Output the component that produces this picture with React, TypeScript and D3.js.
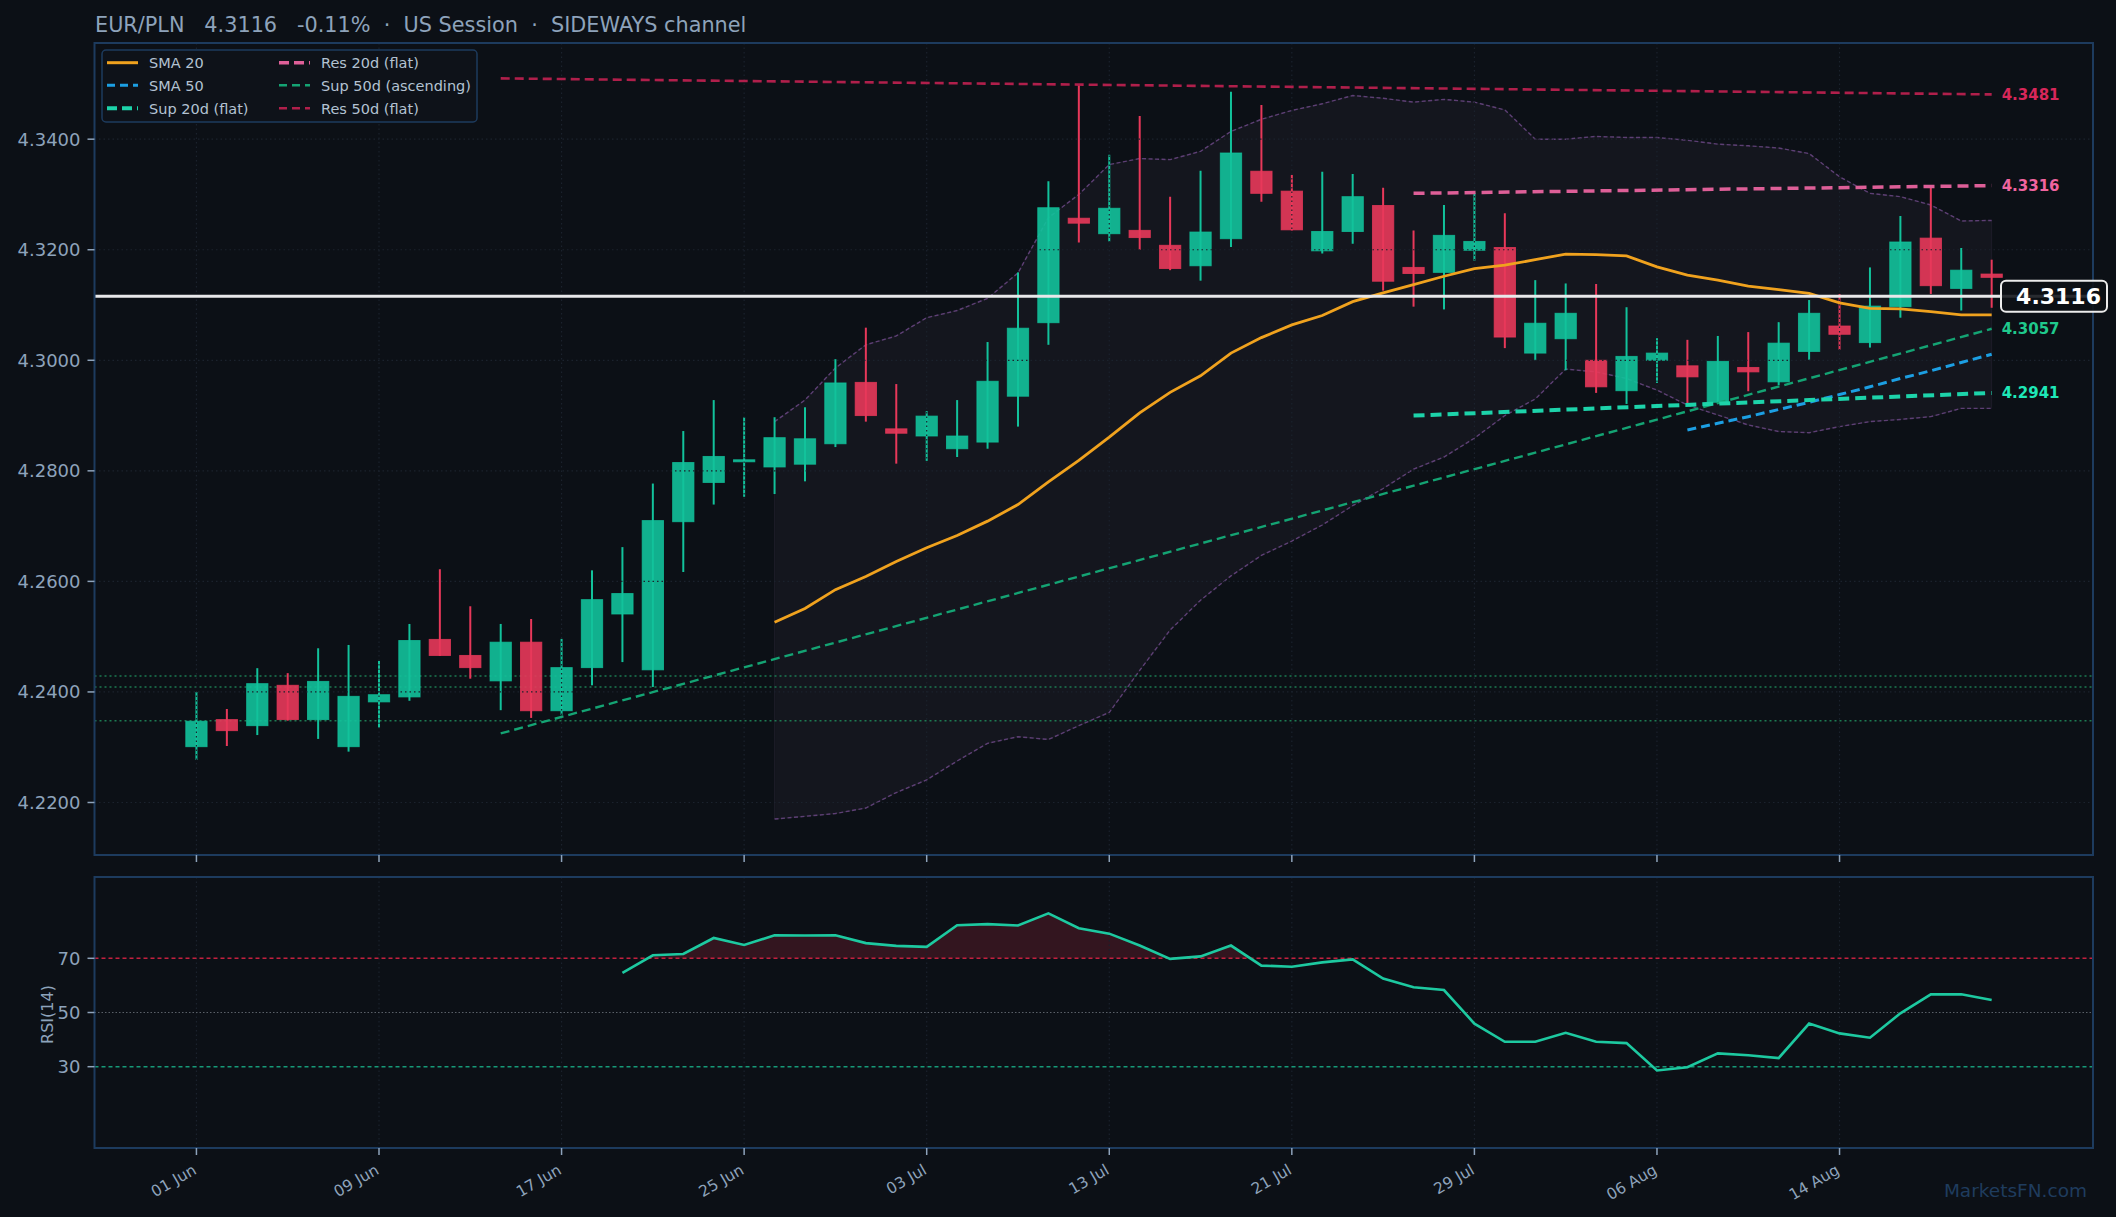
import React from 'react';
import * as d3 from 'd3';

const W = 2116;
const H = 1217;

// ---------- data ----------
const tickIdx = [0, 6, 12, 18, 24, 30, 36, 42, 48, 54];
const tickLabels = ['01 Jun', '09 Jun', '17 Jun', '25 Jun', '03 Jul', '13 Jul', '21 Jul', '29 Jul', '06 Aug', '14 Aug'];
const priceTicks = [4.22, 4.24, 4.26, 4.28, 4.30, 4.32, 4.34];
const rsiTicks = [30, 50, 70];

const opens = [4.2301, 4.2350, 4.2339, 4.2412, 4.2350, 4.2301, 4.2382, 4.2391, 4.2495, 4.2466,
  4.2420, 4.2490, 4.2366, 4.2444, 4.2541, 4.2440, 4.2708, 4.2779, 4.2818, 4.2807,
  4.2812, 4.2849, 4.2960, 4.2876, 4.2863, 4.2840, 4.2852, 4.2935, 4.3068, 4.3257,
  4.3229, 4.3235, 4.3208, 4.3171, 4.3220, 4.3342, 4.3306, 4.3198, 4.3233, 4.3280,
  4.3168, 4.3159, 4.3199, 4.3204, 4.3013, 4.3039, 4.3000, 4.2945, 4.3000, 4.2990,
  4.2924, 4.2987, 4.2961, 4.3016, 4.3062, 4.3032, 4.3097, 4.3221, 4.3130, 4.3156];
const highs = [4.2400, 4.2369, 4.2443, 4.2434, 4.2479, 4.2485, 4.2456, 4.2523, 4.2622, 4.2555,
  4.2523, 4.2532, 4.2496, 4.2620, 4.2662, 4.2777, 4.2872, 4.2928, 4.2897, 4.2897,
  4.2915, 4.3002, 4.3059, 4.2957, 4.2908, 4.2928, 4.3033, 4.3159, 4.3324, 4.3498,
  4.3372, 4.3442, 4.3296, 4.3343, 4.3486, 4.3462, 4.3335, 4.3341, 4.3337, 4.3312,
  4.3235, 4.3281, 4.3303, 4.3266, 4.3145, 4.3139, 4.3138, 4.3096, 4.3040, 4.3037,
  4.3044, 4.3051, 4.3069, 4.3109, 4.3120, 4.3168, 4.3261, 4.3317, 4.3203, 4.3182];
const lows = [4.2277, 4.2302, 4.2322, 4.2348, 4.2315, 4.2292, 4.2335, 4.2384, 4.2465, 4.2424,
  4.2367, 4.2353, 4.2358, 4.2412, 4.2454, 4.2409, 4.2617, 4.2739, 4.2753, 4.2758,
  4.2781, 4.2843, 4.2889, 4.2813, 4.2818, 4.2825, 4.2840, 4.2880, 4.3028, 4.3213,
  4.3215, 4.3200, 4.3163, 4.3144, 4.3205, 4.3287, 4.3235, 4.3193, 4.3211, 4.3126,
  4.3097, 4.3092, 4.3180, 4.3022, 4.3000, 4.2982, 4.2941, 4.2921, 4.2959, 4.2919,
  4.2922, 4.2944, 4.2955, 4.3001, 4.3019, 4.3023, 4.3077, 4.3120, 4.3090, 4.3095];
const closes = [4.2347, 4.2330, 4.2415, 4.2350, 4.2419, 4.2392, 4.2395, 4.2493, 4.2466, 4.2444,
  4.2490, 4.2366, 4.2444, 4.2567, 4.2578, 4.2710, 4.2815, 4.2826, 4.2820, 4.2860,
  4.2858, 4.2959, 4.2900, 4.2868, 4.2899, 4.2863, 4.2962, 4.3058, 4.3276, 4.3248,
  4.3275, 4.3222, 4.3166, 4.3232, 4.3375, 4.3302, 4.3236, 4.3233, 4.3296, 4.3143,
  4.3157, 4.3226, 4.3215, 4.3042, 4.3067, 4.3085, 4.2952, 4.3007, 4.3013, 4.2970,
  4.2998, 4.2979, 4.3031, 4.3085, 4.3047, 4.3098, 4.3214, 4.3135, 4.3163, 4.3150];

const bbStart = 19;
const bbUpper = [4.2889, 4.2928, 4.2986, 4.3028, 4.3044, 4.3077, 4.3090, 4.3112, 4.3158, 4.3258,
  4.3300, 4.3354, 4.3365, 4.3363, 4.3378, 4.3414, 4.3436, 4.3452, 4.3464, 4.3479,
  4.3474, 4.3467, 4.3472, 4.3467, 4.3453, 4.3400, 4.3400, 4.3405, 4.3403, 4.3403,
  4.3398, 4.3391, 4.3388, 4.3384, 4.3374, 4.3332, 4.3302, 4.3296, 4.3281, 4.3252, 4.3253];
const bbLower = [4.2170, 4.2175, 4.2180, 4.2190, 4.2218, 4.2241, 4.2275, 4.2307, 4.2319, 4.2314,
  4.2339, 4.2363, 4.2439, 4.2512, 4.2566, 4.2610, 4.2647, 4.2673, 4.2702, 4.2737,
  4.2768, 4.2803, 4.2825, 4.2859, 4.2900, 4.2930, 4.2984, 4.2979, 4.2967, 4.2946,
  4.2919, 4.2901, 4.2883, 4.2871, 4.2869, 4.2880, 4.2889, 4.2893, 4.2898, 4.2913, 4.2913];
const sma20Start = 19;
const sma20 = [4.2526, 4.2551, 4.2585, 4.2609, 4.2636, 4.2661, 4.2683, 4.2709, 4.2739, 4.2780,
  4.2819, 4.2861, 4.2905, 4.2942, 4.2972, 4.3013, 4.3041, 4.3064, 4.3081, 4.3106,
  4.3122, 4.3137, 4.3152, 4.3166, 4.3172, 4.3182, 4.3192, 4.3191, 4.3189, 4.3169,
  4.3154, 4.3145, 4.3134, 4.3128, 4.3121, 4.3104, 4.3094, 4.3093, 4.3088, 4.3082, 4.3082];
const sma50Start = 49;
const sma50 = [4.2874, 4.2886, 4.2898, 4.2911, 4.2924, 4.2938, 4.2952, 4.2967, 4.2981, 4.2996, 4.3011];

const rsiStart = 14;
const rsi = [64.6, 71.1, 71.6, 77.5, 74.9, 78.5, 78.4, 78.5, 75.6, 74.6,
  74.2, 82.2, 82.6, 82.1, 86.6, 81.1, 79.1, 74.7, 69.8, 70.7,
  74.7, 67.3, 66.9, 68.5, 69.6, 62.5, 59.3, 58.3, 45.9, 39.2,
  39.2, 42.5, 39.2, 38.7, 28.6, 29.8, 34.9, 34.2, 33.2, 45.9,
  42.3, 40.7, 49.7, 56.7, 56.7, 54.6];

const res50Idx = [10, 59];
const res50Val = [4.3510, 4.3481];
const sup50Idx = [10, 59];
const sup50Val = [4.2325, 4.3057];
const res20Idx = [40, 59];
const res20Val = [4.3302, 4.3316];
const sup20Idx = [40, 59];
const sup20Val = [4.2900, 4.2941];
const pivotLevels = [4.2429, 4.2409, 4.2348];
const lastPrice = 4.3116;

// ---------- style ----------
const BG = '#0c1016';
const FRAME = '#1d3b5e';
const GRID = '#1b222d';
const TXT = '#8ea3bb';
const UP = '#12c29b';
const DOWN = '#e8385a';
const C_SMA20 = '#f0a21e';
const C_SMA50 = '#1c9fe3';
const C_SUP20 = '#1dd3aa';
const C_RES20 = '#de5f98';
const C_SUP50 = '#14a373';
const C_RES50 = '#b01f4b';
const FONT = '"DejaVu Sans", sans-serif';

const L = 94.5, R = 2093, T = 43, B = 855;
const RT = 877, RB = 1148;

export default function App() {
  const x = d3.scaleLinear().domain([-3.35, 62.33]).range([L, R]);
  const y = d3.scaleLinear().domain([4.2105, 4.3574]).range([B, T]);
  const ry = d3.scaleLinear().domain([0, 100]).range([RB, RT]);
  const bw = (x(1) - x(0)) * 0.7;

  const lineIdx = (start: number) => d3.line<number>().x((_, k) => x(start + k)).y((v) => y(v));
  const seg = (idx: number[], vals: number[]) =>
    d3.line<number>().x((_, k) => x(idx[k])).y((v) => y(v))(vals) || '';

  const bandArea = d3.area<number>()
    .x((_, k) => x(bbStart + k))
    .y0((_, k) => y(bbLower[k]))
    .y1((v) => y(v))(bbUpper) || '';

  // RSI fill above 70
  const pts: { i: number; v: number }[] = [];
  rsi.forEach((v, k) => {
    pts.push({ i: rsiStart + k, v });
    if (k < rsi.length - 1) {
      const vn = rsi[k + 1];
      if ((v - 70) * (vn - 70) < 0) {
        const t = (70 - v) / (vn - v);
        pts.push({ i: rsiStart + k + t, v: 70 });
      }
    }
  });
  const rsiFill = d3.area<{ i: number; v: number }>()
    .x((d) => x(d.i)).y0(ry(70)).y1((d) => ry(Math.max(70, d.v)))(pts) || '';
  const rsiLine = d3.line<number>().x((_, k) => x(rsiStart + k)).y((v) => ry(v))(rsi) || '';

  const legendRows = [
    { col: 0, row: 0, label: 'SMA 20', color: C_SMA20, dash: '', w: 3 },
    { col: 0, row: 1, label: 'SMA 50', color: C_SMA50, dash: '8 5', w: 3 },
    { col: 0, row: 2, label: 'Sup 20d (flat)', color: C_SUP20, dash: '10 5', w: 4 },
    { col: 1, row: 0, label: 'Res 20d (flat)', color: C_RES20, dash: '10 5', w: 3.5 },
    { col: 1, row: 1, label: 'Sup 50d (ascending)', color: C_SUP50, dash: '8 5', w: 2.5 },
    { col: 1, row: 2, label: 'Res 50d (flat)', color: C_RES50, dash: '8 5', w: 2.5 },
  ];
  const rowY = [62.7, 85.3, 108.3];
  const colX = [107, 279];

  const endLabels = [
    { v: res50Val[1], color: '#d8275a' },
    { v: res20Val[1], color: '#f0649f' },
    { v: sup50Val[1], color: '#1fc98c' },
    { v: sup20Val[1], color: '#1ee8b8' },
  ];

  return (
    <div>
      <style>{`body{margin:0;background:${BG};}`}</style>
      <svg width={W} height={H} style={{ display: 'block', background: BG }} fontFamily={FONT}>
        <rect x={0} y={0} width={W} height={H} fill={BG} />

        {/* title */}
        <text x={95} y={32} fontSize={20.8} fill={TXT} style={{ whiteSpace: 'pre' }}>
          {'EUR/PLN   4.3116   -0.11%  ·  US Session  ·  SIDEWAYS channel'}
        </text>

        <defs>
          <clipPath id="mainClip"><rect x={L} y={T} width={R - L} height={B - T} /></clipPath>
          <clipPath id="rsiClip"><rect x={L} y={RT} width={R - L} height={RB - RT} /></clipPath>
        </defs>

        {/* ---------- main panel ---------- */}
        <g clipPath="url(#mainClip)">
          {/* bollinger band */}
          <path d={bandArea} fill="rgb(150,118,165)" fillOpacity={0.06} stroke="rgb(150,118,165)" strokeOpacity={0.1} strokeWidth={1} />
          <path d={lineIdx(bbStart)(bbUpper) || ''} fill="none" stroke="#5d3f74" strokeWidth={1.4} strokeDasharray="4 2.5" />
          <path d={lineIdx(bbStart)(bbLower) || ''} fill="none" stroke="#5d3f74" strokeWidth={1.4} strokeDasharray="4 2.5" />

          {/* pivot dotted levels */}
          {pivotLevels.map((v, k) => (
            <line key={k} x1={L} x2={R} y1={y(v)} y2={y(v)} stroke="#1c7a52" strokeWidth={1.5} strokeDasharray="2 3" />
          ))}

          {/* candles */}
          {opens.map((o, i) => {
            const c = closes[i];
            const col = c >= o ? UP : DOWN;
            const top = y(Math.max(o, c));
            const bot = y(Math.min(o, c));
            return (
              <g key={i}>
                <rect x={x(i) - bw / 2} y={top} width={bw} height={Math.max(bot - top, 2)} fill={col} fillOpacity={0.9} stroke={col} strokeOpacity={0.75} strokeWidth={1} />
                <line x1={x(i)} x2={x(i)} y1={y(highs[i])} y2={y(lows[i])} stroke={col} strokeWidth={2} />
              </g>
            );
          })}

          {/* grid on top */}
          {priceTicks.map((v) => (
            <line key={v} x1={L} x2={R} y1={y(v)} y2={y(v)} stroke={GRID} strokeWidth={1.2} strokeDasharray="1.5 3" />
          ))}
          {tickIdx.map((i) => (
            <line key={i} x1={x(i)} x2={x(i)} y1={T} y2={B} stroke={GRID} strokeWidth={1.2} strokeDasharray="1.5 3" />
          ))}

          {/* lines */}
          <path d={seg(res50Idx, res50Val)} fill="none" stroke={C_RES50} strokeWidth={2.6} strokeDasharray="9 5" />
          <path d={seg(sup50Idx, sup50Val)} fill="none" stroke={C_SUP50} strokeWidth={2.4} strokeDasharray="9 5" />
          <path d={lineIdx(sma50Start)(sma50) || ''} fill="none" stroke={C_SMA50} strokeWidth={3} strokeDasharray="9 5" />
          <path d={seg(res20Idx, res20Val)} fill="none" stroke={C_RES20} strokeWidth={3.5} strokeDasharray="11 6" />
          <path d={seg(sup20Idx, sup20Val)} fill="none" stroke={C_SUP20} strokeWidth={4} strokeDasharray="11 6" />
          <path d={lineIdx(sma20Start)(sma20) || ''} fill="none" stroke={C_SMA20} strokeWidth={2.8} />

          {/* last price */}
          <line x1={L} x2={R} y1={y(lastPrice)} y2={y(lastPrice)} stroke="#e8e8ea" strokeWidth={3} />
        </g>

        {/* end labels */}
        {endLabels.map((d, k) => (
          <text key={k} x={x(59) + 10} y={y(d.v)} dy="0.36em" fontSize={15} fontWeight="bold" fill={d.color}>
            {d.v.toFixed(4)}
          </text>
        ))}

        {/* frame */}
        <rect x={L} y={T} width={R - L} height={B - T} fill="none" stroke={FRAME} strokeWidth={2} />

        {/* last price box */}
        <rect x={2001} y={y(lastPrice) - 15.5} width={106} height={31} rx={5} fill={BG} fillOpacity={0.88} stroke="#ececec" strokeWidth={2} />
        <text x={2101} y={y(lastPrice)} dy="0.36em" textAnchor="end" fontSize={22} fontWeight="bold" fill="#ffffff">
          {lastPrice.toFixed(4)}
        </text>

        {/* y axis */}
        {priceTicks.map((v) => (
          <g key={v}>
            <line x1={L - 7} x2={L} y1={y(v)} y2={y(v)} stroke={TXT} strokeWidth={1.5} />
            <text x={L - 14} y={y(v)} dy="0.36em" textAnchor="end" fontSize={18} fill={TXT}>{v.toFixed(4)}</text>
          </g>
        ))}
        {tickIdx.map((i) => (
          <line key={i} x1={x(i)} x2={x(i)} y1={B} y2={B + 7} stroke={TXT} strokeWidth={1.5} />
        ))}

        {/* legend */}
        <rect x={102} y={50} width={375} height={72} rx={4} fill="#0e1219" stroke={FRAME} strokeWidth={1.5} />
        {legendRows.map((r, k) => (
          <g key={k}>
            <line x1={colX[r.col]} x2={colX[r.col] + 31} y1={rowY[r.row]} y2={rowY[r.row]} stroke={r.color} strokeWidth={r.w} strokeDasharray={r.dash || undefined} />
            <text x={colX[r.col] + 42} y={rowY[r.row]} dy="0.36em" fontSize={14.5} fill="#b3c2d2">{r.label}</text>
          </g>
        ))}

        {/* ---------- RSI panel ---------- */}
        <g clipPath="url(#rsiClip)">
          <path d={rsiFill} fill="#c0283f" fillOpacity={0.22} />
          {tickIdx.map((i) => (
            <line key={i} x1={x(i)} x2={x(i)} y1={RT} y2={RB} stroke={GRID} strokeWidth={1.2} strokeDasharray="1.5 3" />
          ))}
          <line x1={L} x2={R} y1={ry(70)} y2={ry(70)} stroke="#c4203f" strokeWidth={1.4} strokeDasharray="4 3" />
          <line x1={L} x2={R} y1={ry(50)} y2={ry(50)} stroke="#5a6068" strokeWidth={1.2} strokeDasharray="1.5 2" />
          <line x1={L} x2={R} y1={ry(30)} y2={ry(30)} stroke="#169a78" strokeWidth={1.4} strokeDasharray="4 3" />
          <path d={rsiLine} fill="none" stroke="#1dc9a0" strokeWidth={2.6} />
        </g>
        <rect x={L} y={RT} width={R - L} height={RB - RT} fill="none" stroke={FRAME} strokeWidth={2} />
        {rsiTicks.map((v) => (
          <g key={v}>
            <line x1={L - 7} x2={L} y1={ry(v)} y2={ry(v)} stroke={TXT} strokeWidth={1.5} />
            <text x={L - 14} y={ry(v)} dy="0.36em" textAnchor="end" fontSize={18} fill={TXT}>{v}</text>
          </g>
        ))}
        <text transform={`translate(47, ${(RT + RB) / 2 + 2}) rotate(-90)`} textAnchor="middle" dy="0.36em" fontSize={16} fill={TXT}>RSI(14)</text>

        {/* x axis */}
        {tickIdx.map((i, k) => (
          <g key={i}>
            <line x1={x(i)} x2={x(i)} y1={RB} y2={RB + 7} stroke={TXT} strokeWidth={1.5} />
            <text transform={`translate(${x(i) + 1}, ${RB + 25}) rotate(-30)`} textAnchor="end" fontSize={15.5} fill={TXT}>
              {tickLabels[k]}
            </text>
          </g>
        ))}

        {/* watermark */}
        <text x={2087} y={1197} textAnchor="end" fontSize={18.5} fill="#1f3c5e">MarketsFN.com</text>
      </svg>
    </div>
  );
}
